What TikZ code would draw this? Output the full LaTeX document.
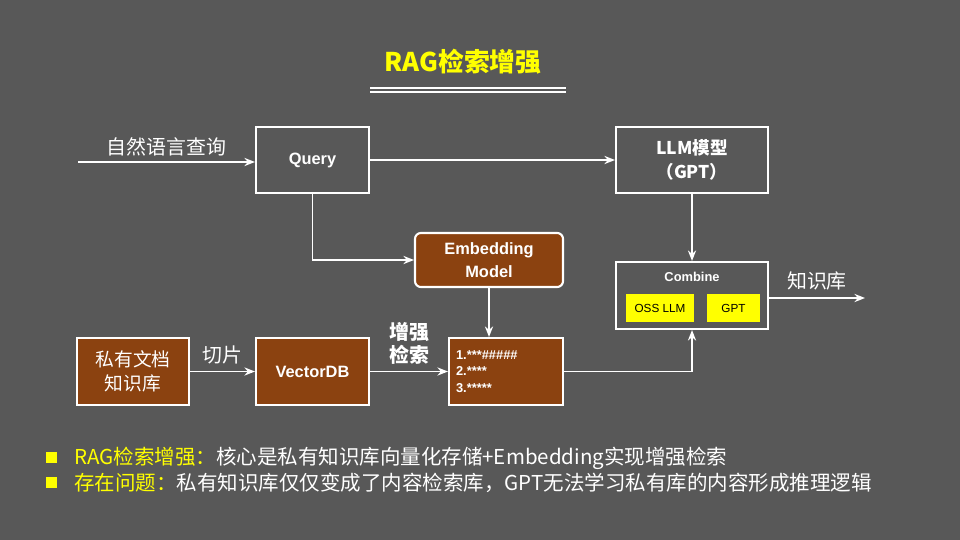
\documentclass[tikz,border=0pt]{standalone}
\usepackage{fontspec}
\setmainfont{Liberation Sans}
\newfontfamily\cjk{Noto Sans CJK SC}
\usetikzlibrary{arrows.meta}
\definecolor{bggray}{HTML}{585858}
\definecolor{boxbrown}{HTML}{8B4210}
\definecolor{titleyellow}{HTML}{FFFF00}
\tikzset{
  box/.style={draw=white, line width=1.8pt, text=white, font=\bfseries\fontsize{14}{17}\selectfont},
  brownbox/.style={box, fill=boxbrown},
  ybox/.style={fill=titleyellow, text=black, font=\fontsize{10}{12}\selectfont},
  arr/.style={draw=white, line width=1.3pt, -{Stealth[length=9pt, width=7pt]}},
  lbl/.style={text=white, font=\cjk\fontsize{17}{20}\selectfont}
}
\begin{document}
\begin{tikzpicture}[x=0.03cm, y=-0.03cm]
  % Background
  \fill[bggray] (0,0) rectangle (960,540);
  \useasboundingbox (0,0) rectangle (960,540);

  % Title
  \node[text=titleyellow, font=\cjk\bfseries\fontsize{22}{26}\selectfont] (title) at (463,62) {RAG检索增强};
  \draw[white, line width=0.9pt] (370,88) -- (566,88);
  \draw[white, line width=0.9pt] (370,92) -- (566,92);

  % Boxes
  \node[box, minimum width=113*0.03cm, minimum height=66*0.03cm] (query) at (312.5,160) {Query};
  \node[box, minimum width=152*0.03cm, minimum height=66*0.03cm, align=center, font=\cjk\bfseries\fontsize{15}{20}\selectfont] (llm) at (692,160) {LLM模型\\（GPT）};
  \node[brownbox, rounded corners=5pt, minimum width=148*0.03cm, minimum height=54*0.03cm, align=center, font=\bfseries\fontsize{14}{20}\selectfont] (embed) at (489,260) {Embedding\\Model};
  \node[box, minimum width=152*0.03cm, minimum height=67*0.03cm] (combine) at (692,295.5) {};
  \node[text=white, font=\bfseries\fontsize{11}{13}\selectfont] (ctitle) at (692,277) {Combine};
  \node[ybox, minimum width=68*0.03cm, minimum height=28*0.03cm] (oss) at (660,308) {OSS LLM};
  \node[ybox, minimum width=53*0.03cm, minimum height=28*0.03cm] (gpt) at (733.5,308) {GPT};
  \node[brownbox, minimum width=112*0.03cm, minimum height=67*0.03cm, align=center, font=\cjk\fontsize{16}{21}\selectfont] (docs) at (133,371.5) {私有文档\\知识库};
  \node[brownbox, minimum width=113*0.03cm, minimum height=67*0.03cm] (vdb) at (312.5,371.5) {VectorDB};
  \node[brownbox, minimum width=114*0.03cm, minimum height=67*0.03cm, text width=100*0.03cm, align=left, font=\bfseries\fontsize{11}{14}\selectfont] (res) at (506,371.5) {1.***\#\#\#\#\#\\2.****\\3.*****};

  % Connectors
  \coordinate (qin) at (78,162);
  \coordinate (kout) at (865,298);
  \draw[arr] (qin) -- (qin -| query.west) node[lbl, midway, above=1pt] {自然语言查询};
  \draw[arr] (query.east) -- (llm.west);
  \draw[arr] (query.south) |- (embed.west);
  \draw[arr] (embed.south) -- (embed.south |- res.north);
  \draw[arr] (llm.south) -- (combine.north);
  \draw[arr] (res.east) -| (combine.south);
  \draw[arr] (combine.east |- kout) -- (kout) node[lbl, midway, above=3pt] {知识库};
  \draw[arr] (docs.east) -- (vdb.west) node[lbl, midway, above=2pt] {切片};
  \draw[arr] (vdb.east) -- (res.west) node[lbl, midway, above=2pt, align=center, font=\cjk\bfseries\fontsize{17}{20}\selectfont] {增强\\检索};

  % Bullets
  \fill[titleyellow] (46,452) rectangle (57,463);
  \fill[titleyellow] (46,477) rectangle (57,488);
  \node[anchor=west, font=\cjk\fontsize{17.5}{20}\selectfont, inner sep=0pt] (b1) at (74,458) {\textcolor{titleyellow}{RAG检索增强：}\textcolor{white}{核心是私有知识库向量化存储+Embedding实现增强检索}};
  \node[anchor=west, font=\cjk\fontsize{17.5}{20}\selectfont, inner sep=0pt] (b2) at (74,483) {\textcolor{titleyellow}{存在问题：}\textcolor{white}{私有知识库仅仅变成了内容检索库，GPT无法学习私有库的内容形成推理逻辑}};
\end{tikzpicture}
\end{document}
